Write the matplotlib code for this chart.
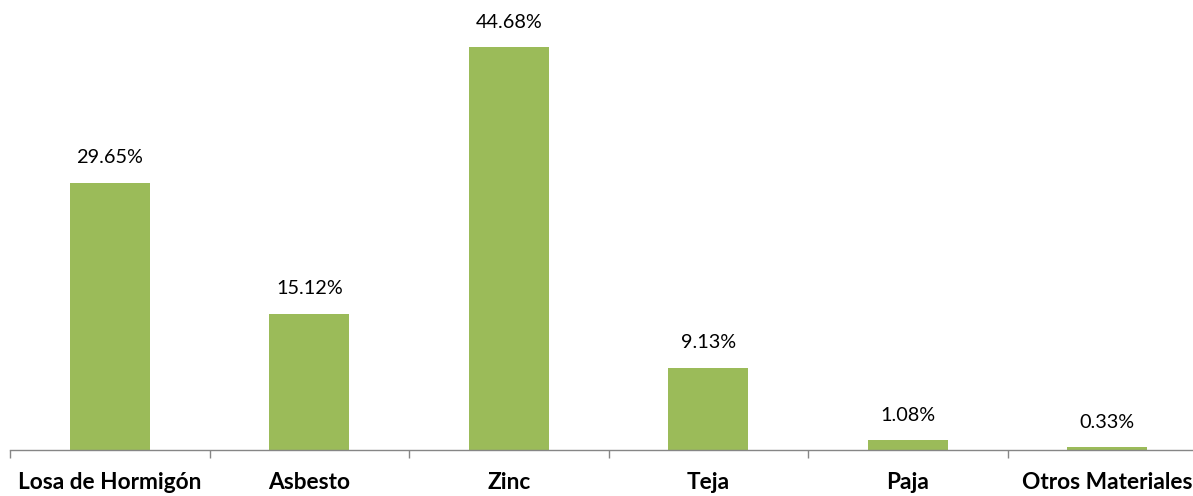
import matplotlib
matplotlib.use("Agg")
import matplotlib.pyplot as plt
import numpy as np

categories = ["Losa de Hormigón", "Asbesto", "Zinc", "Teja", "Paja", "Otros Materiales"]
values = [29.65, 15.12, 44.68, 9.13, 1.08, 0.33]
value_labels = ["29.65%", "15.12%", "44.68%", "9.13%", "1.08%", "0.33%"]

plt.rcParams['font.family'] = ['Lato', 'DejaVu Sans']

W, H = 1193, 496
fig = plt.figure(figsize=(W / 100, H / 100), dpi=100)
left = 10 / W
right = 1207 / W
bottom = (H - 450) / H
top = 1.0
ax = fig.add_axes([left, bottom, right - left, top - bottom])

x = np.arange(len(categories))
bars = ax.bar(x, values, width=0.4, color="#9BBB59", zorder=2)
ax.set_xlim(-0.5, len(categories) - 0.5)
ax.set_ylim(0, 49.9)

for xi, v, lab in zip(x, values, value_labels):
    ax.annotate(lab, (xi, v), xytext=(0, 18), textcoords="offset points",
                ha="center", va="center", fontsize=14.3, color="#000000")

for s in ["top", "right", "left"]:
    ax.spines[s].set_visible(False)
ax.spines["bottom"].set_color("#868686")
ax.spines["bottom"].set_linewidth(1.0)
ax.set_yticks([])

ax.set_xticks(x)
ax.set_xticklabels(categories, fontsize=16.3, fontweight="bold")
ax.tick_params(axis="x", which="major", length=0, pad=16)
ax.set_xticks(np.arange(-0.5, len(categories)), minor=True)
ax.tick_params(axis="x", which="minor", length=6, color="#868686", width=1.0, direction="out")

fig.savefig("out.png", dpi=100, facecolor="white")
